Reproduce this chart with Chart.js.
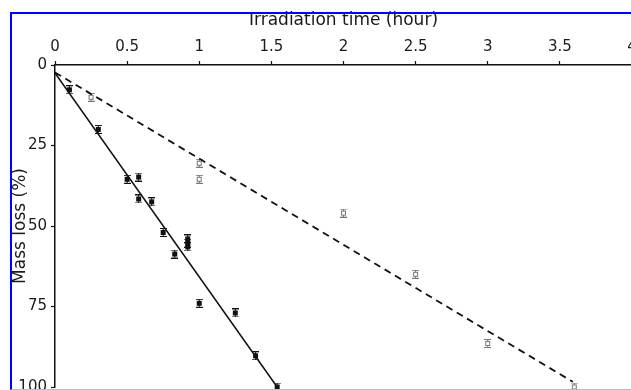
<!DOCTYPE html>
<html lang="en">
<head>
  <meta charset="UTF-8">
  <title>Mass loss vs irradiation time</title>
  <script src="https://cdn.jsdelivr.net/npm/chart.js"></script>
  <style>
    html, body {
      margin: 0;
      padding: 0;
      background: #fff;
      overflow: hidden;
    }
    .wrap {
      position: relative;
      width: 631px;
      height: 390px;
      overflow: hidden;
    }
    .wrap canvas {
      position: absolute;
      left: 0;
      top: 0;
    }
    .frame {
      position: absolute;
      left: 10px;
      top: 12px;
      width: 700px;
      height: 375px;
      border-top: 2px solid #0000ff;
      border-left: 2px solid #0000ff;
      border-bottom: 1px solid #b4b4ff;
      pointer-events: none;
    }
  </style>
</head>
<body>
  <div class="wrap">
    <canvas id="massChart" width="640" height="395"></canvas>
    <div class="frame"></div>
  </div>

  <script>
    // filled markers (solid fit)
    const timeA = [0.1, 0.3, 0.5, 0.58, 0.58, 0.67, 0.75, 0.83, 0.92, 0.92, 0.92, 1.0, 1.25, 1.39, 1.54];
    const lossA = [7.7, 20, 35.5, 34.8, 41.6, 42.5, 52, 58.7, 54, 55.3, 56.5, 74, 77, 90.3, 100];

    // open markers (dashed fit)
    const timeB = [0.25, 1.0, 1.0, 2.0, 2.5, 3.0, 3.6];
    const lossB = [10, 30.5, 35.5, 46, 65, 86.5, 100];

    // fitted lines
    const fitTimeA = [0, 1.54];
    const fitLossA = [2.5, 100];
    const fitTimeB = [0, 3.59];
    const fitLossB = [2.3, 98.4];

    const xTicks = [0, 0.5, 1, 1.5, 2, 2.5, 3, 3.5, 4];
    const yTicks = [0, 25, 50, 75, 100];

    const toPts = (xs, ys) => xs.map((x, i) => ({ x: x, y: ys[i] }));

    function makeMarker(filled) {
      const c = document.createElement('canvas');
      c.width = 7;
      c.height = 9;
      const g = c.getContext('2d');
      g.fillStyle = filled ? '#111' : '#777';
      g.strokeStyle = filled ? '#111' : '#777';
      g.fillRect(0, 0, 7, 1);
      g.fillRect(0, 8, 7, 1);
      g.fillRect(3, 0, 1, 9);
      if (filled) {
        g.fillRect(1, 2, 5, 5);
      } else {
        g.fillStyle = '#fff';
        g.fillRect(1, 2, 5, 5);
        g.lineWidth = 1;
        g.strokeRect(1.5, 2.5, 4, 4);
      }
      return c;
    }

    // keep the plot area exactly where the layout padding puts it
    function noPad(s) {
      s.paddingLeft = 0;
      s.paddingRight = 0;
      s.paddingTop = 0;
      s.paddingBottom = 0;
    }

    const family = '"DejaVu Sans", Verdana, sans-serif';
    const tickFont = { family: family, size: 15 };
    const txt = '#1a1a1a';

    const ctx = document.getElementById('massChart').getContext('2d');
    new Chart(ctx, {
      type: 'scatter',
      data: {
        datasets: [
          {
            data: toPts(fitTimeA, fitLossA),
            showLine: true,
            borderColor: '#111',
            borderWidth: 1.5,
            pointRadius: 0
          },
          {
            data: toPts(fitTimeB, fitLossB),
            showLine: true,
            borderColor: '#111',
            borderWidth: 1.8,
            borderDash: [7, 5],
            pointRadius: 0
          },
          {
            data: toPts(timeA, lossA),
            pointStyle: makeMarker(true)
          },
          {
            data: toPts(timeB, lossB),
            pointStyle: makeMarker(false)
          }
        ]
      },
      options: {
        responsive: false,
        animation: false,
        clip: false,
        layout: { padding: { top: 12, left: 0, right: 8, bottom: 8 } },
        plugins: {
          legend: { display: false },
          tooltip: { enabled: false }
        },
        scales: {
          x: {
            type: 'linear',
            position: 'top',
            min: 0,
            max: 4,
            afterBuildTicks: s => { s.ticks = xTicks.map(v => ({ value: v })); },
            afterFit: s => { s.height = 53; noPad(s); },
            ticks: { color: txt, font: tickFont, padding: 5, maxRotation: 0, callback: v => String(v) },
            grid: { drawOnChartArea: false, tickLength: 4, color: '#111', tickWidth: 1.2 },
            border: { display: true, color: '#111', width: 1.5 },
            title: {
              display: true,
              text: 'Irradiation time (hour)',
              color: txt,
              font: { family: family, size: 17, lineHeight: 1 },
              padding: { top: 0, bottom: 0 }
            }
          },
          y: {
            type: 'linear',
            reverse: true,
            min: 0,
            max: 100,
            afterBuildTicks: s => { s.ticks = yTicks.map(v => ({ value: v })); },
            afterFit: s => { s.width = 55; noPad(s); },
            ticks: { color: txt, font: tickFont, padding: 4, callback: v => String(v) },
            grid: { drawOnChartArea: false, tickLength: 4, color: '#111', tickWidth: 1.2 },
            border: { display: true, color: '#111', width: 1.5 },
            title: {
              display: true,
              text: 'Mass loss (%)',
              color: txt,
              font: { family: family, size: 17, lineHeight: 1 },
              padding: { top: 12, bottom: 0 }
            }
          }
        }
      }
    });
  </script>
</body>
</html>
